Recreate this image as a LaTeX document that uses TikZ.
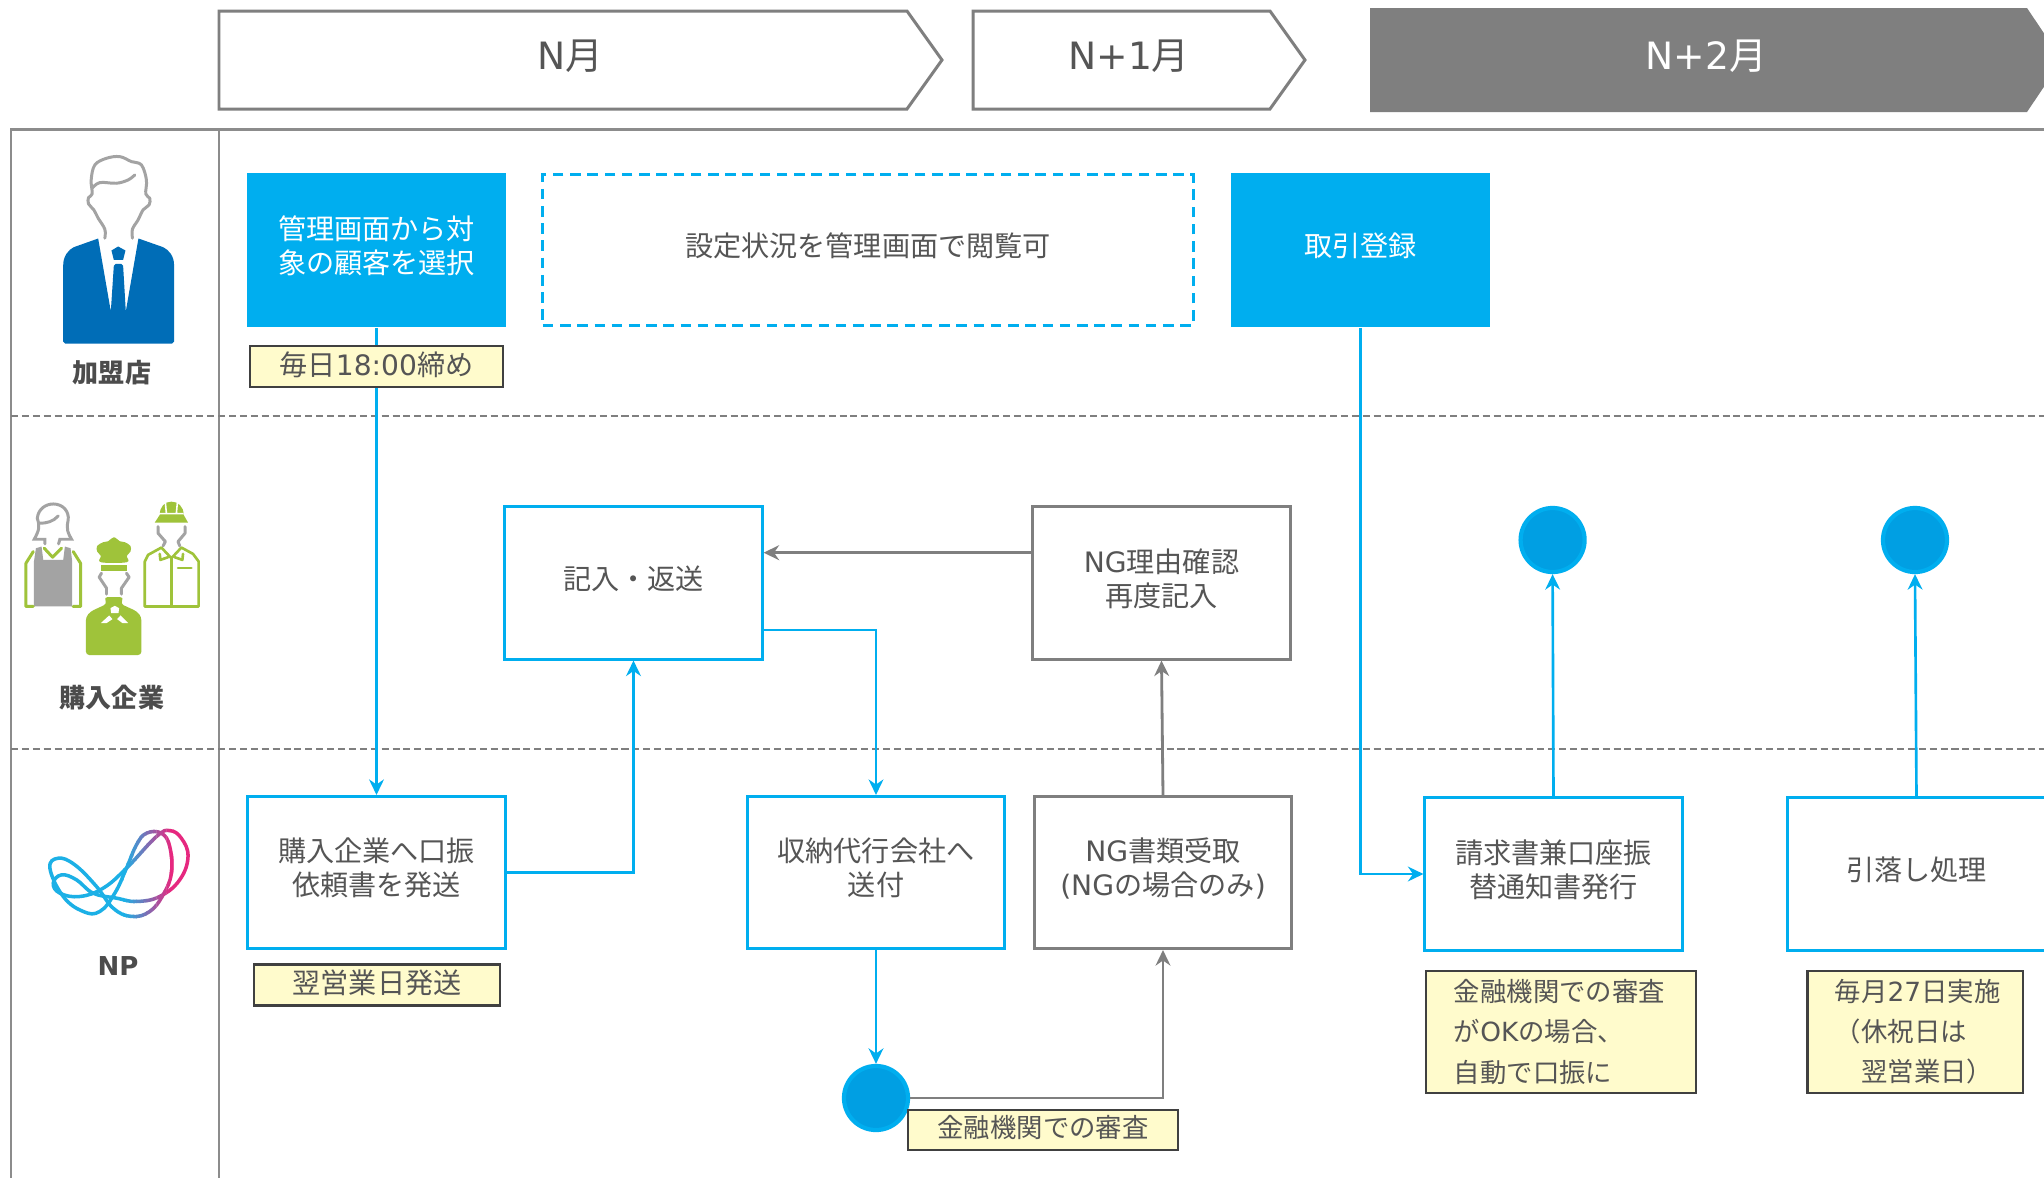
\documentclass[tikz,border=0pt]{standalone}
\usepackage{fontspec}
\setmainfont{Noto Sans CJK JP}
\newfontfamily\latf{DejaVu Sans}
\newcommand\lat[1]{{\latf #1}}
\usetikzlibrary{arrows.meta}
\definecolor{npcyan}{HTML}{00AEEF}
\definecolor{npdeep}{HTML}{009FE3}
\definecolor{npgray}{HTML}{7F7F7F}
\definecolor{nptext}{HTML}{555555}
\definecolor{npnote}{HTML}{FFFBCC}
\definecolor{npsuit}{HTML}{006DB7}
\definecolor{npgreen}{HTML}{9FC33A}
\definecolor{nphead}{HTML}{A3A3A3}
\definecolor{nppink}{HTML}{E6287F}
\definecolor{npsky}{HTML}{1CB0E6}
\newcommand\nplogo{
   \draw [line width=1pt] plot [smooth cycle,tension=.7] coordinates {(150,265) (175,235) (225,255) (290,320) (340,385) (395,410) (450,395) (490,345) (515,280) (510,200) (485,160) (440,160) (410,195) (380,265) (345,340) (300,395) (250,395) (190,350)};
   \draw [line width=1pt] plot [smooth cycle,tension=.7] coordinates {(160,310) (185,285) (230,300) (280,340) (350,355) (410,365) (480,350) (540,300) (565,230) (545,175) (510,152) (470,170) (380,265) (310,325) (240,350) (180,340)};
}
\begin{document}
\begin{tikzpicture}[x=0.01cm,y=-0.01cm,
                    every node/.style={text=nptext,inner sep=0pt,align=center,font=\fontsize{8pt}{9.7pt}\selectfont},
                    boxtext/.style={text depth=3.2pt},
                    bluebox/.style={boxtext,draw=npcyan,line width=0.85pt,fill=white,minimum width=2.57cm,minimum height=1.52cm},
                    graybox/.style={boxtext,draw=npgray,line width=0.85pt,fill=white,minimum width=2.57cm,minimum height=1.52cm},
                    solidbox/.style={boxtext,fill=npcyan,text=white,minimum width=2.59cm,minimum height=1.54cm},
                    memo/.style={draw=black!75,line width=0.6pt,fill=npnote},
                    memoline/.style={memo,text depth=1.8pt},
                    memosmall/.style={memo,font=\fontsize{7.5pt}{11.4pt}\selectfont},
                    maru/.style={circle,draw=npcyan,fill=npdeep,line width=1.2pt,minimum size=0.64cm},
                    who/.style={font=\fontsize{7.4pt}{9pt}\selectfont\bfseries,text=black!70},
                    head/.style={font=\fontsize{10.7pt}{12pt}\selectfont},
                    blueline/.style={draw=npcyan,line width=0.75pt,-{Stealth[length=4.4pt,width=4.2pt]}},
                    grayline/.style={draw=npgray,line width=0.8pt,-{Stealth[length=4.4pt,width=4.2pt]}},
                    chevron/.style={draw=npgray,line width=0.85pt,fill=white},
                    rule/.style={draw=npgray!90,line width=0.85pt},
                    lane/.style={draw=npgray,line width=0.55pt,dash pattern=on 2pt off 1.1pt},
                    iconline/.style={draw=nphead,line width=0.85pt,line cap=round,line join=round}]
   \useasboundingbox (0,0) rectangle (2044,1178);
   \fill [white] (0,0) rectangle (2044,1178);

   \draw [chevron] (219,11) -- (907,11) -- (942,60) -- (907,109) -- (219,109) -- cycle;
   \draw [chevron] (973,11) -- (1270,11) -- (1305,60) -- (1270,109) -- (973,109) -- cycle;
   \fill [npgray] (1370,8) -- (2027,8) -- (2062,60) -- (2027,112) -- (1370,112) -- cycle;
   \node [head] (monthn) at (570,56) {\lat{N}月};
   \node [head] (monthna) at (1129,56) {\lat{N+1}月};
   \node [head,text=white] (monthnb) at (1706,56) {\lat{N+2}月};

   \draw [rule] (11,1178) -- (11,129) -- (2044,129);
   \draw [rule,line width=0.65pt] (219,129) -- (219,1178);
   \draw [lane] (11,416) -- (2044,416);
   \draw [lane] (11,749) -- (2044,749);

   % merchant
   \begin{scope}[shift={(0,130)},x=0.003333cm,y=-0.003333cm]
      \fill [npsuit] (196,642) -- (190,636) -- (190,405) .. controls (190,380) and (205,360) .. (222,352) -- (295,326) -- (333,545) -- (342,408) -- (348,402) -- (364,402) -- (370,408) -- (378,545) -- (416,326) -- (490,352) .. controls (508,360) and (523,380) .. (523,405) -- (523,636) -- (517,642) -- cycle;
      \fill [npsuit] (355,350) -- (377,362) -- (370,390) -- (342,390) -- (335,362) -- cycle;
      \draw [iconline] plot [smooth,tension=.6] coordinates {(315,325) (315,298) (295,265) (282,240) (266,222) (266,203) (277,192) (274,150) (285,105) (320,85) (360,80) (395,95) (425,105) (440,150) (438,192) (450,205) (448,225) (430,240) (415,270) (398,298) (398,325)};
      \draw [iconline] plot [smooth,tension=.6] coordinates {(277,175) (300,158) (350,160) (385,150) (405,135)};
   \end{scope}
   \node [who] (merchant) at (112,373) {加盟店};

   % buyers
   \begin{scope}[shift={(0,480)},x=0.003333cm,y=-0.003333cm]
      \fill [nphead] (102,380) -- (102,245) -- (108,205) -- (125,200) -- (130,240) -- (190,240) -- (195,200) -- (212,205) -- (217,245) -- (217,380) -- cycle;
      \draw [iconline,draw=npgreen] (100,215) -- (78,250) -- (78,380) -- (100,380);
      \draw [iconline,draw=npgreen] (220,215) -- (242,250) -- (242,380) -- (220,380);
      \draw [iconline,draw=npgreen] (133,205) -- (158,232) -- (185,205);
      \draw [iconline,line join=miter] (135,192) -- (135,178) -- (103,178) .. controls (118,150) and (120,140) .. (112,115) .. controls (115,85) and (140,72) .. (160,72) .. controls (190,72) and (208,95) .. (205,120) .. controls (198,150) and (205,160) .. (215,178) -- (180,178) -- (176,192);
      \draw [iconline] (118,130) .. controls (140,130) and (160,125) .. (175,108);
      \fill [npgreen,rounded corners=1pt] (258,526) -- (258,412) -- (272,395) -- (322,372) -- (312,352) -- (372,352) -- (362,372) -- (412,395) -- (425,412) -- (425,526) -- cycle;
      \fill [white] (345,378) -- (358,385) -- (356,400) -- (334,400) -- (332,385) -- cycle;
      \fill [white] (303,430) -- (328,407) -- (338,418) -- (320,430) -- cycle;
      \fill [white] (385,430) -- (362,407) -- (352,418) -- (368,430) -- cycle;
      \draw [iconline] (305,280) -- (298,292) -- (320,325) -- (320,343);
      \draw [iconline] (380,280) -- (388,292) -- (365,325) -- (365,343);
      \fill [npgreen] plot [smooth cycle,tension=.6] coordinates {(303,247) (303,228) (292,215) (292,198) (310,187) (325,184) (342,172) (360,184) (375,187) (392,198) (392,215) (381,228) (381,247)};
      \fill [npgreen] (303,247) rectangle (381,225);
      \fill [npgreen] (303,255) rectangle (381,272);
      \draw [iconline,draw=npgreen,line width=0.75pt] (435,380) -- (435,245) -- (445,225) -- (485,203) -- (515,235) -- (545,203) -- (580,222) -- (597,245) -- (597,380) -- cycle;
      \draw [iconline,draw=npgreen,line width=0.75pt] (515,235) -- (515,380);
      \draw [iconline,draw=npgreen,line width=0.75pt] (480,222) -- (482,240) -- (505,232);
      \draw [iconline,draw=npgreen,line width=0.75pt] (550,222) -- (548,240) -- (525,232);
      \draw [iconline,draw=npgreen,line width=0.75pt] (535,264) -- (575,264);
      \draw [iconline] (475,140) -- (475,160) -- (497,185) -- (490,198);
      \draw [iconline] (556,140) -- (556,160) -- (535,185) -- (540,198);
      \fill [npgreen] (465,128) -- (480,105) .. controls (480,80) and (495,65) .. (515,65) .. controls (535,65) and (552,80) .. (552,105) -- (565,128) -- cycle;
      \draw [white,line width=0.45pt] (478,101) -- (552,101) (497,68) -- (500,100) (533,68) -- (530,100);
   \end{scope}
   \node [who] (buyer) at (112,698) {購入企業};

   % np
   \begin{scope}[shift={(0,780)},x=0.003333cm,y=-0.003333cm]
      \begin{scope}
         \clip (120,120) rectangle (372,430);
         \begin{scope}[npsky]\nplogo\end{scope}
      \end{scope}
      \foreach \i in {0,...,14} {
         \pgfmathsetmacro\pct{100-\i*100/14}
         \begin{scope}
            \clip ({370+\i*10},120) rectangle ({381+\i*10},430);
            \colorlet{npstrip}{npsky!\pct!nppink}
            \begin{scope}[npstrip]\nplogo\end{scope}
         \end{scope}
      }
      \begin{scope}
         \clip (520,120) rectangle (600,430);
         \begin{scope}[nppink]\nplogo\end{scope}
      \end{scope}
   \end{scope}
   \node [who,font=\fontsize{7.4pt}{9pt}\selectfont\latf\bfseries] (np) at (118,966) {NP};

   \node [solidbox] (kanri) at (376.5,250) {管理画面から対\\象の顧客を選択};
   \node [boxtext,draw=npcyan,line width=0.85pt,dash pattern=on 3pt off 1.9pt,minimum width=6.5cm,minimum height=1.5cm] (setsumei) at (868,250) {設定状況を管理画面で閲覧可};
   \node [solidbox] (torihiki) at (1360.5,250) {取引登録};
   \node [bluebox] (kinyu) at (633.5,583) {記入・返送};
   \node [graybox] (ngriyu) at (1161.5,583) {\lat{NG}理由確認\\再度記入};
   \node [bluebox] (kounyu) at (376.5,872.5) {購入企業へ口振\\依頼書を発送};
   \node [bluebox] (shuno) at (876,872.5) {収納代行会社へ\\送付};
   \node [graybox] (ngsho) at (1163,872.5) {\lat{NG}書類受取\\\lat{(NG}の場合のみ\lat{)}};
   \node [bluebox] (seikyu) at (1553.5,874) {請求書兼口座振\\替通知書発行};
   \node [bluebox] (hikiotoshi) at (1916.5,874) {引落し処理};
   \node [maru] (marua) at (876,1098) {};
   \node [maru] (marub) at (1552.6,540) {};
   \node [maru] (maruc) at (1915,540) {};

   \draw [blueline] (kanri.south) -- (kounyu.north);
   \draw [blueline] (kounyu.east) -| (kinyu.south);
   \draw [blueline] ([yshift=-0.47cm]kinyu.east) -| (shuno.north);
   \draw [grayline] ([yshift=0.303cm]ngriyu.west) -- ([yshift=0.303cm]kinyu.east);
   \draw [grayline] (ngsho.north) -- (ngriyu.south);
   \draw [blueline] (shuno.south) -- (marua.north);
   \draw [grayline] (marua.east) -| (ngsho.south);
   \draw [blueline] (torihiki.south) |- (seikyu.west);
   \draw [blueline] (seikyu.north) -- (marub.south);
   \draw [blueline] (hikiotoshi.north) -- (maruc.south);

   \node [memoline,minimum width=2.525cm,minimum height=0.41cm] (shime) at (376.5,366.5) {毎日\lat{18:00}締め};
   \node [memoline,minimum width=2.465cm,minimum height=0.41cm] (hassou) at (377,985) {翌営業日発送};
   \node [memosmall,text depth=1.8pt,minimum width=2.7cm,minimum height=0.4cm] (shinsa) at (1043,1130) {金融機関での審査};
   \node [memosmall,minimum width=2.7cm,minimum height=1.22cm,align=left,text width=2.14cm] (jidou) at (1561,1032) {金融機関での審査\\が\lat{OK}の場合、\\自動で口振に};
   \node [memosmall,minimum width=2.15cm,minimum height=1.22cm,align=left,text width=1.6cm] (jisshi) at (1915,1032) {毎月\lat{27}日実施\\（休祝日は\\　翌営業日）};
\end{tikzpicture}
\end{document}
